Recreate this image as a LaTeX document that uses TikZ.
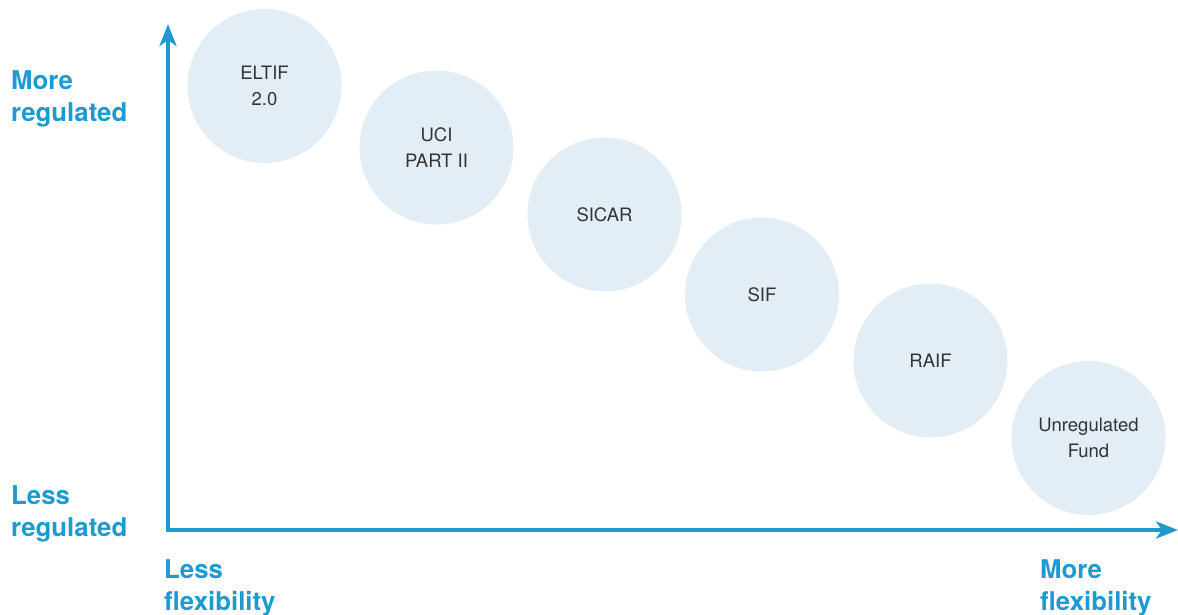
\documentclass[tikz,border=0pt]{standalone}
\usepackage{fontspec}
\setmainfont{TeX Gyre Heros}
\usetikzlibrary{arrows.meta}
\definecolor{axisblue}{HTML}{1E9AD0}
\definecolor{circfill}{HTML}{E3EDF6}
\definecolor{txtgray}{HTML}{333333}
\tikzset{
  fund/.style={circle, fill=circfill, draw=none, minimum size=154pt, inner sep=0pt,
    text=txtgray, align=center, font=\fontsize{18.5}{26}\selectfont},
  axislabel/.style={anchor=west, inner sep=0pt, align=left, text=axisblue,
    font=\fontsize{25.8}{32}\selectfont\bfseries},
  axisline/.style={draw=axisblue, line width=4pt, -{Stealth[length=22pt,width=17pt,inset=6pt]}}
}
\begin{document}
\begin{tikzpicture}[x=1pt,y=-1pt]
\useasboundingbox (0,0) rectangle (1178,614);
\node[fund] (eltif) at (264.5,86) {ELTIF\\2.0};
\node[fund] (uci) at (436.5,147.5) {UCI\\PART II};
\node[fund] (sicar) at (604.5,214.5) {SICAR};
\node[fund] (sif) at (762,294.5) {SIF};
\node[fund] (raif) at (930.5,360.5) {RAIF};
\node[fund] (unreg) at (1088.5,438) {Unregulated\\Fund};
\coordinate (origin) at (168,530);
\coordinate (ytop) at (168,24);
\coordinate (xend) at (1178,530);
\draw[axisline] ([yshift=-2pt]origin) -- (ytop);
\draw[axisline] ([xshift=-2pt]origin) -- (xend);
\node[axislabel] (morereg) at (11,99) {More\\regulated};
\node[axislabel] (lessreg) at (11,514) {Less\\regulated};
\node[axislabel] (lessflex) at (164,588) {Less\\flexibility};
\node[axislabel] (moreflex) at (1040,588) {More\\flexibility};
\end{tikzpicture}
\end{document}
